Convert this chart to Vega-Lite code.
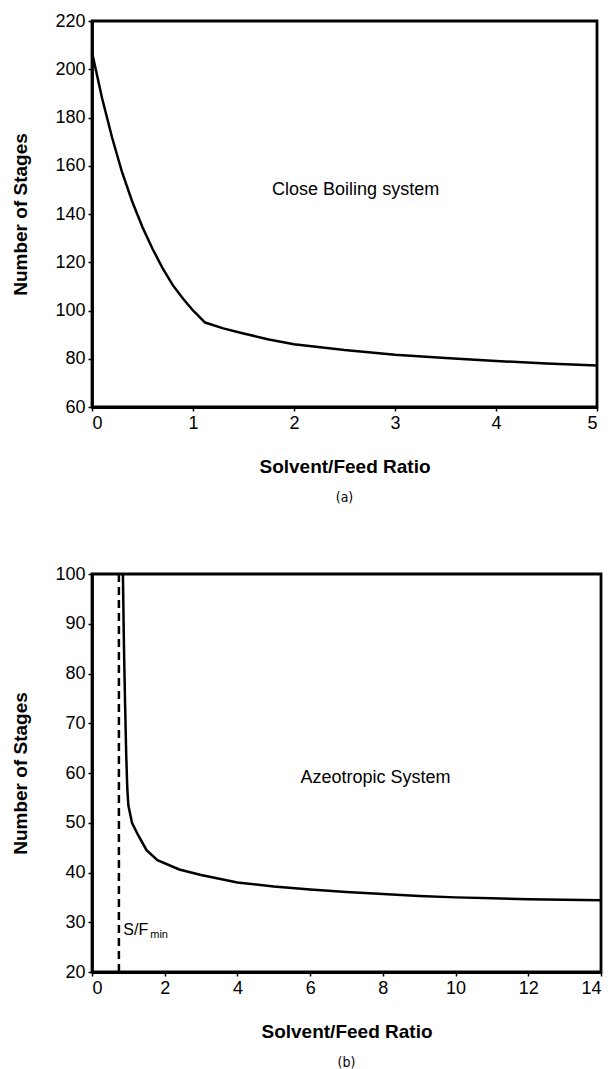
{
  "$schema": "https://vega.github.io/schema/vega-lite/v6.json",
  "background": "white",
  "padding": {"left": 10, "top": 10, "right": 3, "bottom": 0},
  "config": {
    "font": "Arial, Liberation Sans, Helvetica, sans-serif",
    "view": {"stroke": "black", "strokeWidth": 2.8},
    "axis": {
      "domainColor": "black", "domainWidth": 2.8,
      "tickColor": "black", "tickWidth": 1.5, "tickSize": 4,
      "labelFont": "Arial, Liberation Sans, Helvetica, sans-serif",
      "titleFont": "Arial, Liberation Sans, Helvetica, sans-serif",
      "labelFontSize": 18, "labelColor": "black", "labelPadding": 3,
      "titleFontSize": 19, "titleFontWeight": "bold", "titleColor": "black",
      "grid": false
    },
    "concat": {"spacing": 56}
  },
  "datasets": {
    "closeBoiling": [
      {"ratio": 0, "stages": 207}, {"ratio": 0.1, "stages": 188}, {"ratio": 0.2, "stages": 171.5},
      {"ratio": 0.3, "stages": 157}, {"ratio": 0.4, "stages": 145}, {"ratio": 0.5, "stages": 134.5},
      {"ratio": 0.6, "stages": 125.5}, {"ratio": 0.7, "stages": 117.5}, {"ratio": 0.8, "stages": 110.5},
      {"ratio": 0.9, "stages": 105}, {"ratio": 1.0, "stages": 100}, {"ratio": 1.12, "stages": 95},
      {"ratio": 1.3, "stages": 92.6}, {"ratio": 1.5, "stages": 90.5}, {"ratio": 1.75, "stages": 88},
      {"ratio": 2, "stages": 86}, {"ratio": 2.5, "stages": 83.6}, {"ratio": 3, "stages": 81.7},
      {"ratio": 3.5, "stages": 80.3}, {"ratio": 4, "stages": 79.1}, {"ratio": 4.5, "stages": 78},
      {"ratio": 5, "stages": 77.2}
    ],
    "azeotropic": [
      {"ratio": 0.85, "stages": 100}, {"ratio": 0.88, "stages": 85}, {"ratio": 0.91, "stages": 74},
      {"ratio": 0.94, "stages": 64}, {"ratio": 0.97, "stages": 57}, {"ratio": 1.0, "stages": 53.5},
      {"ratio": 1.1, "stages": 50}, {"ratio": 1.27, "stages": 47.5}, {"ratio": 1.5, "stages": 44.5},
      {"ratio": 1.8, "stages": 42.5}, {"ratio": 2.4, "stages": 40.6}, {"ratio": 3, "stages": 39.5},
      {"ratio": 4, "stages": 38}, {"ratio": 5, "stages": 37.2}, {"ratio": 6, "stages": 36.6},
      {"ratio": 7, "stages": 36.1}, {"ratio": 8, "stages": 35.7}, {"ratio": 9, "stages": 35.3},
      {"ratio": 10, "stages": 35}, {"ratio": 11, "stages": 34.8}, {"ratio": 12, "stages": 34.6},
      {"ratio": 13, "stages": 34.5}, {"ratio": 14, "stages": 34.4}
    ],
    "sfmin": [{"ratio": 0.74}],
    "labelA": [{"ratio": 2.61, "stages": 150, "text": "Close Boiling system"}],
    "labelB": [{"ratio": 7.8, "stages": 59, "text": "Azeotropic System"}],
    "labelSF": [{"ratio": 0.86, "stages": 28.5, "text": "S/F", "sub": "min"}]
  },
  "vconcat": [
    {
      "width": 505, "height": 386,
      "title": {"text": "(a)", "orient": "bottom", "font": "DejaVu Sans Condensed, DejaVu Sans", "fontSize": 14, "fontWeight": "normal", "color": "black", "offset": 15},
      "layer": [
        {
          "data": {"name": "closeBoiling"},
          "mark": {"type": "line", "color": "black", "strokeWidth": 2.5},
          "encoding": {
            "x": {"field": "ratio", "type": "quantitative", "scale": {"domain": [0, 5], "nice": false},
                  "axis": {"values": [0, 1, 2, 3, 4, 5], "format": "d", "title": "Solvent/Feed Ratio", "titlePadding": 25}},
            "y": {"field": "stages", "type": "quantitative", "scale": {"domain": [60, 220], "nice": false, "zero": false},
                  "axis": {"values": [60, 80, 100, 120, 140, 160, 180, 200, 220], "format": "d", "title": "Number of Stages", "titlePadding": 24}}
          }
        },
        {
          "data": {"name": "labelA"},
          "mark": {"type": "text", "fontSize": 18, "color": "black", "align": "center", "baseline": "middle"},
          "encoding": {
            "x": {"field": "ratio", "type": "quantitative"},
            "y": {"field": "stages", "type": "quantitative"},
            "text": {"field": "text"}
          }
        }
      ]
    },
    {
      "width": 509, "height": 398,
      "title": {"text": "(b)", "orient": "bottom", "font": "DejaVu Sans Condensed, DejaVu Sans", "fontSize": 14, "fontWeight": "normal", "color": "black", "offset": 15},
      "layer": [
        {
          "data": {"name": "azeotropic"},
          "mark": {"type": "line", "color": "black", "strokeWidth": 2.5},
          "encoding": {
            "x": {"field": "ratio", "type": "quantitative", "scale": {"domain": [0, 14], "nice": false},
                  "axis": {"values": [0, 2, 4, 6, 8, 10, 12, 14], "format": "d", "title": "Solvent/Feed Ratio", "titlePadding": 25}},
            "y": {"field": "stages", "type": "quantitative", "scale": {"domain": [20, 100], "nice": false, "zero": false},
                  "axis": {"values": [20, 30, 40, 50, 60, 70, 80, 90, 100], "format": "d", "title": "Number of Stages", "titlePadding": 24}}
          }
        },
        {
          "data": {"name": "sfmin"},
          "mark": {"type": "rule", "color": "black", "strokeWidth": 2.5, "strokeDash": [8, 5]},
          "encoding": {"x": {"field": "ratio", "type": "quantitative"}}
        },
        {
          "data": {"name": "labelB"},
          "mark": {"type": "text", "fontSize": 18, "color": "black", "align": "center", "baseline": "middle"},
          "encoding": {
            "x": {"field": "ratio", "type": "quantitative"},
            "y": {"field": "stages", "type": "quantitative"},
            "text": {"field": "text"}
          }
        },
        {
          "data": {"name": "labelSF"},
          "mark": {"type": "text", "fontSize": 16, "color": "black", "align": "left", "baseline": "middle"},
          "encoding": {
            "x": {"field": "ratio", "type": "quantitative"},
            "y": {"field": "stages", "type": "quantitative"},
            "text": {"field": "text"}
          }
        },
        {
          "data": {"name": "labelSF"},
          "mark": {"type": "text", "fontSize": 11, "color": "black", "align": "left", "baseline": "middle", "dx": 27, "dy": 5},
          "encoding": {
            "x": {"field": "ratio", "type": "quantitative"},
            "y": {"field": "stages", "type": "quantitative"},
            "text": {"field": "sub"}
          }
        }
      ]
    }
  ]
}
